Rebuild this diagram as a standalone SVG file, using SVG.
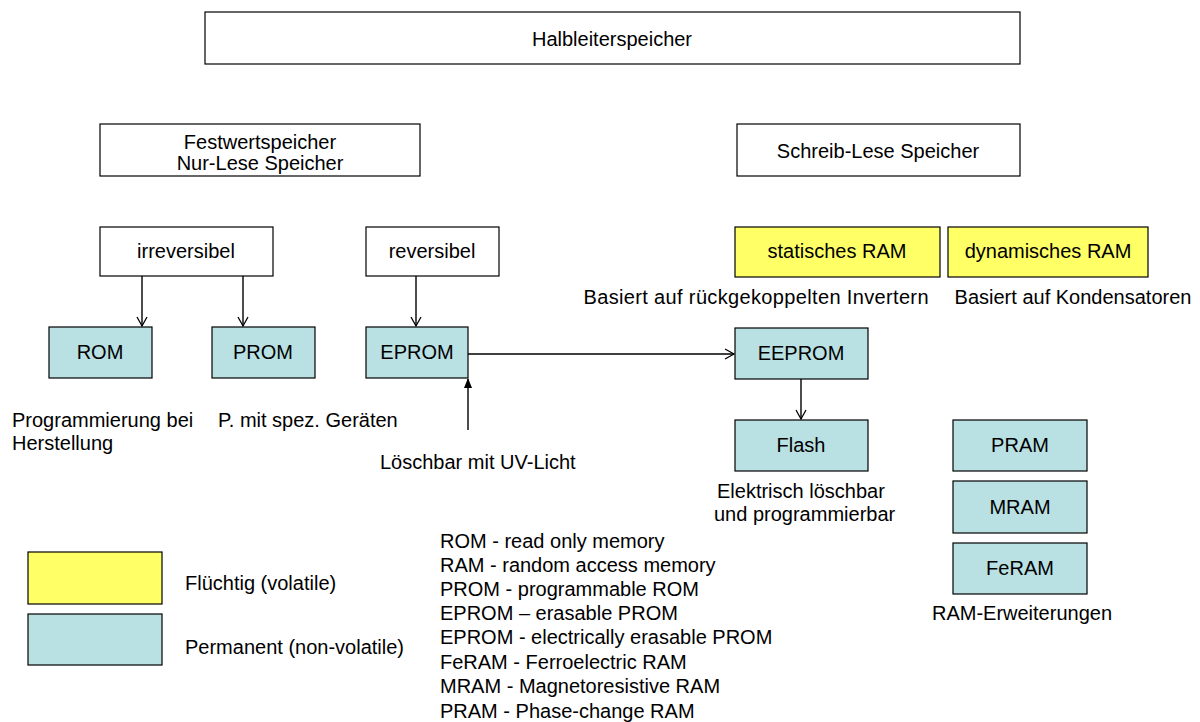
<svg xmlns="http://www.w3.org/2000/svg" width="1200" height="722" viewBox="0 0 1200 722">
<defs>
<marker id="open" markerWidth="12" markerHeight="12" refX="10" refY="6" orient="auto" markerUnits="userSpaceOnUse">
<path d="M1,1 L10,6 L1,11" fill="none" stroke="#000" stroke-width="1.3"/>
</marker>
<marker id="solid" markerWidth="10" markerHeight="10" refX="9" refY="5" orient="auto" markerUnits="userSpaceOnUse">
<path d="M0,1 L10,5 L0,9 Z" fill="#000"/>
</marker>
</defs>
<style>
text{font-family:"Liberation Sans",Arial,sans-serif;font-size:20px;fill:#000}
.c{text-anchor:middle;dominant-baseline:central}
.w{fill:#fff;stroke:#000;stroke-width:1.2}
.y{fill:#ffff66;stroke:#000;stroke-width:1.2}
.b{fill:#b9e0e3;stroke:#000;stroke-width:1.2}
.l{fill:none;stroke:#000;stroke-width:1.4}
</style>
<rect width="1200" height="722" fill="#fff"/>
<g id="halbleiterspeicher"><rect class="w" x="205" y="12" width="815" height="52"/><text class="c" x="612" y="39">Halbleiterspeicher</text></g>
<g id="festwertspeicher"><rect class="w" x="100" y="124" width="320" height="52"/><text class="c" x="260" y="142">Festwertspeicher</text><text class="c" x="260" y="163">Nur-Lese Speicher</text></g>
<g id="schreiblese"><rect class="w" x="737" y="124" width="283" height="52"/><text class="c" x="878" y="151">Schreib-Lese Speicher</text></g>
<g id="irreversibel"><rect class="w" x="100" y="227" width="173" height="49"/><text class="c" x="186" y="251">irreversibel</text></g>
<g id="reversibel"><rect class="w" x="366" y="227" width="133" height="49"/><text class="c" x="432" y="251">reversibel</text></g>
<g id="sram"><rect class="y" x="735" y="227" width="205" height="50"/><text class="c" x="837" y="251">statisches RAM</text></g>
<g id="dram"><rect class="y" x="948" y="227" width="200" height="50"/><text class="c" x="1048" y="251">dynamisches RAM</text></g>
<text class="c" x="756" y="297" textLength="345">Basiert auf rückgekoppelten Invertern</text>
<text class="c" x="1073" y="297">Basiert auf Kondensatoren</text>
<g id="rom"><rect class="b" x="49" y="327" width="103" height="51"/><text class="c" x="100" y="352">ROM</text></g>
<g id="prom"><rect class="b" x="212" y="327" width="103" height="51"/><text class="c" x="263" y="352">PROM</text></g>
<g id="eprom"><rect class="b" x="366" y="327" width="102" height="51"/><text class="c" x="417" y="352">EPROM</text></g>
<g id="eeprom"><rect class="b" x="735" y="328" width="133" height="51"/><text class="c" x="801" y="353">EEPROM</text></g>
<g id="flash"><rect class="b" x="735" y="420" width="133" height="51"/><text class="c" x="801" y="445">Flash</text></g>
<g id="pram"><rect class="b" x="953" y="420" width="134" height="51"/><text class="c" x="1020" y="445">PRAM</text></g>
<g id="mram"><rect class="b" x="953" y="481" width="134" height="52"/><text class="c" x="1020" y="507">MRAM</text></g>
<g id="feram"><rect class="b" x="953" y="543" width="134" height="51"/><text class="c" x="1020" y="568">FeRAM</text></g>
<text class="c" x="1022" y="613">RAM-Erweiterungen</text>
<g id="connectors">
<line class="l" x1="142" y1="276" x2="142" y2="326" marker-end="url(#open)"/>
<line class="l" x1="243" y1="276" x2="243" y2="326" marker-end="url(#open)"/>
<line class="l" x1="416" y1="276" x2="416" y2="326" marker-end="url(#open)"/>
<line class="l" x1="468" y1="354" x2="734" y2="354" marker-end="url(#open)"/>
<line class="l" x1="801" y1="379" x2="801" y2="419" marker-end="url(#open)"/>
<line class="l" x1="468" y1="430" x2="468" y2="379" marker-end="url(#solid)"/>
</g>
<text x="12" y="427">Programmierung bei</text>
<text x="12" y="450">Herstellung</text>
<text x="218" y="427">P. mit spez. Geräten</text>
<text x="380" y="469">Löschbar mit UV-Licht</text>
<text x="717" y="498">Elektrisch löschbar</text>
<text x="714" y="521">und programmierbar</text>
<g id="legend">
<rect class="y" x="28" y="552" width="134" height="52"/>
<rect class="b" x="28" y="614" width="134" height="51"/>
<text x="185" y="590">Flüchtig (volatile)</text>
<text x="185" y="654">Permanent (non-volatile)</text>
</g>
<g id="abbrev">
<text x="440" y="548">ROM - read only memory</text>
<text x="440" y="572">RAM - random access memory</text>
<text x="440" y="596">PROM - programmable ROM</text>
<text x="440" y="620">EPROM – erasable PROM</text>
<text x="440" y="644">EPROM - electrically erasable PROM</text>
<text x="440" y="669">FeRAM - Ferroelectric RAM</text>
<text x="440" y="693">MRAM - Magnetoresistive RAM</text>
<text x="440" y="718">PRAM - Phase-change RAM</text>
</g>
</svg>
